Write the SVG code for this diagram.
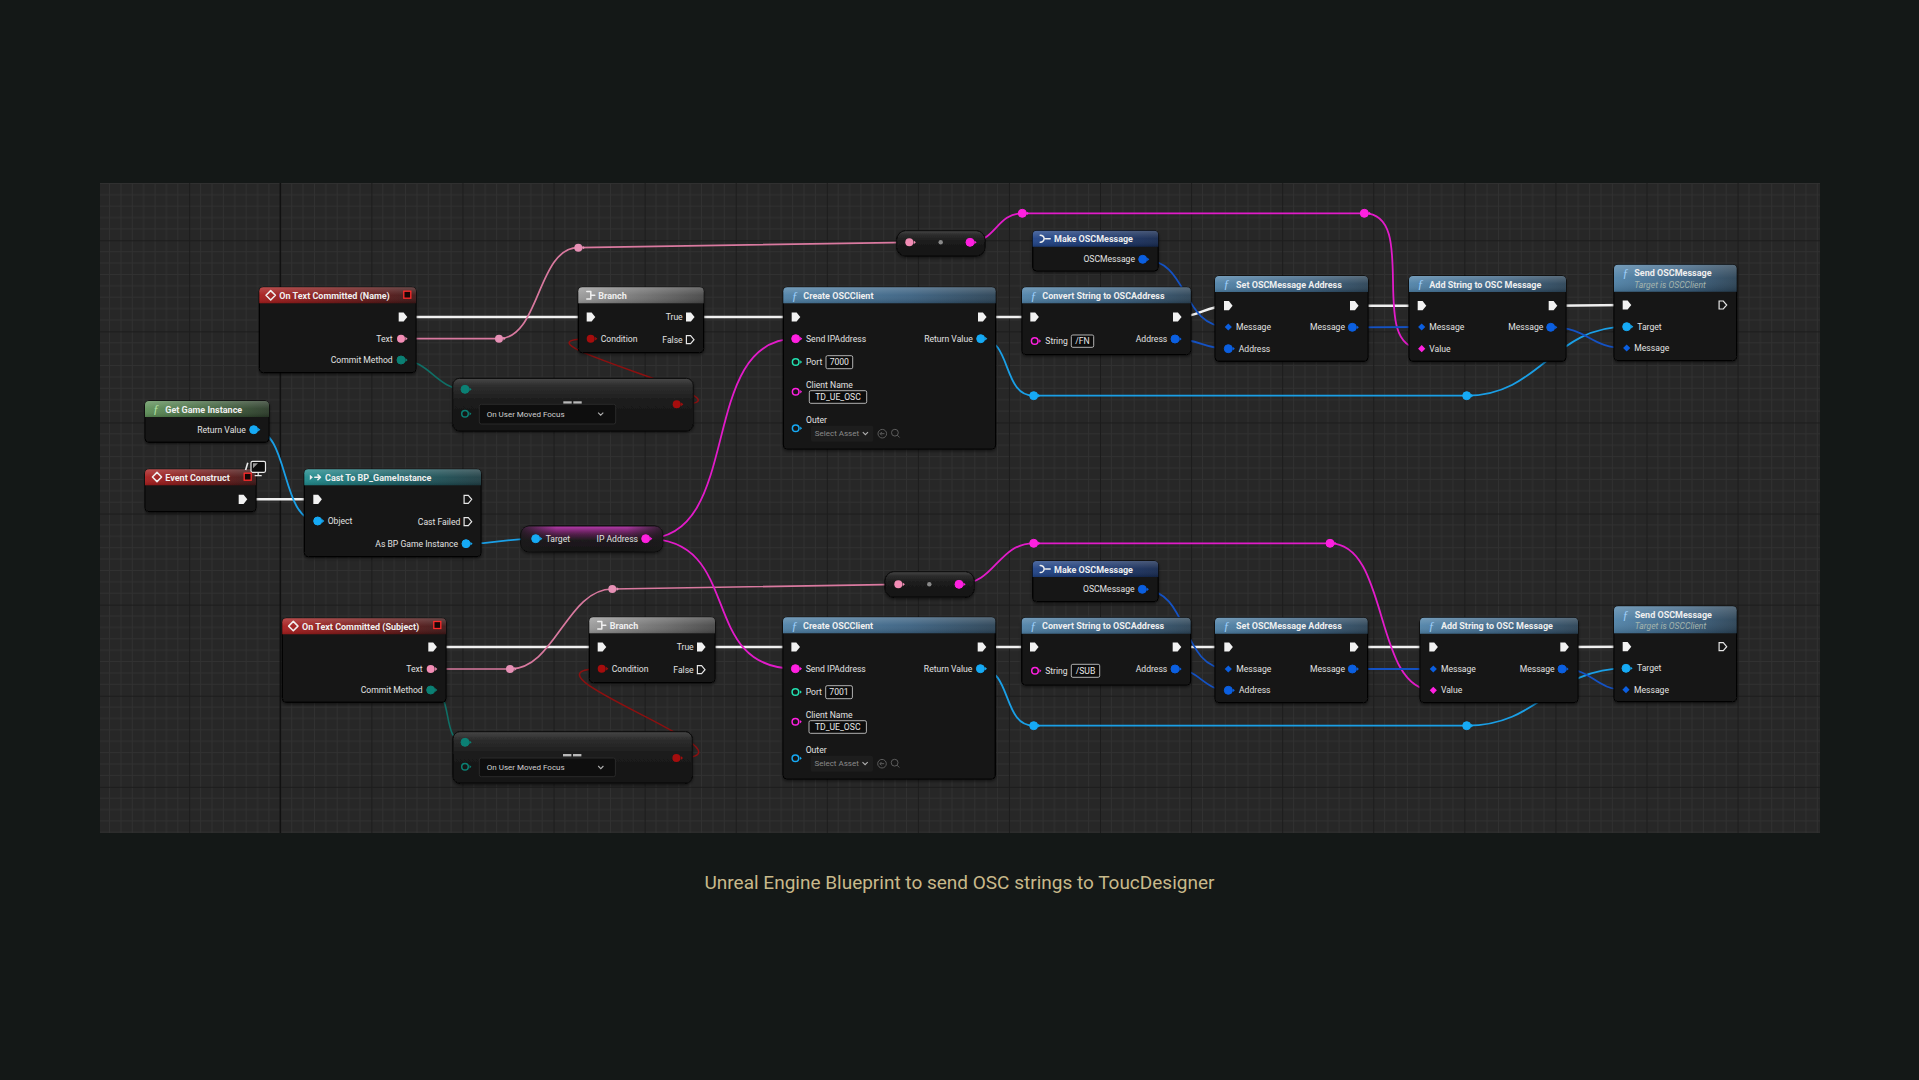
<svg xmlns="http://www.w3.org/2000/svg" xmlns:xlink="http://www.w3.org/1999/xlink" width="1919" height="1080" viewBox="0 0 1919 1080">
<defs>
<style>
.body{fill:#141414;stroke:#060606;stroke-width:1;filter:url(#sh)}
.gl{fill:url(#gGloss);stroke:#080808;stroke-width:1;filter:url(#sh)}
.t{font-family:Roboto,"Liberation Sans",sans-serif;font-size:9px;font-weight:700;fill:#efefef}
.l{font-family:Roboto,"Liberation Sans",sans-serif;font-size:8.6px;fill:#e2e2e2}
.r{text-anchor:end}
.m{text-anchor:middle}
.sub{font-family:Roboto,"Liberation Sans",sans-serif;font-size:8.6px;font-style:italic;fill:#a5b5ae}
.box{fill:#0c0c0c;stroke:#c4c4c4;stroke-width:0.9}
.bx{font-family:Roboto,"Liberation Sans",sans-serif;font-size:8.6px;fill:#e8e8e8}
.dd{fill:#0e0e0e;stroke:#2a2a2a;stroke-width:1}
.ddt{font-family:Roboto,"Liberation Sans",sans-serif;font-size:8px;fill:#d0d0d0}
.sa{font-family:Roboto,"Liberation Sans",sans-serif;font-size:8px;fill:#8a8a8a}
.fn{font-family:"Liberation Serif",serif;font-style:italic;font-size:12px;fill:#9fd0fb}
.ico{fill:none;stroke:#f0f0f0;stroke-width:1.5;stroke-linejoin:round;stroke-linecap:round}
.chev{fill:none;stroke:#b0b0b0;stroke-width:1.1}
.gi{fill:none;stroke:#5c5c5c;stroke-width:1}
.dlg{fill:#160606;stroke:#ff2b2b;stroke-width:1.3}
.exec{fill:#f2f2f2}
.ptx{fill:#f28db5}
.pen{fill:#0b8074;stroke:#0b8074}
.pbo{fill:#a50d0d}
.pob{fill:#16aaf5;stroke:#16aaf5}
.pst{fill:#ff20e0;stroke:#ff20e0}
.pin{fill:#23e0b0;stroke:#23e0b0}
.psr{fill:#0b5fe0;stroke:#0b5fe0}
.w{fill:none;stroke-linecap:round}
.we{stroke:#f0f0f0;stroke-width:2.4}
.wtx{stroke:#d9799f;stroke-width:1.7}
.wst{stroke:#e21bc9;stroke-width:1.8}
.wob{stroke:#1a9fe6;stroke-width:1.8}
.wsr{stroke:#1452c4;stroke-width:1.8}
.wen{stroke:#0f6f66;stroke-width:1.6}
.wbo{stroke:#8c1010;stroke-width:1.5}
</style>
<filter id="sh" x="-10%" y="-10%" width="120%" height="135%">
<feDropShadow dx="0" dy="1.5" stdDeviation="1.6" flood-color="#000" flood-opacity="0.55"/>
</filter>
<pattern id="grid" patternUnits="userSpaceOnUse" x="280.3" y="240.3" width="91.08" height="91.08">
<rect width="91.08" height="91.08" fill="#272727"/>
<path d="M11.385,0V91.08M22.77,0V91.08M34.155,0V91.08M45.54,0V91.08M56.925,0V91.08M68.31,0V91.08M79.695,0V91.08M0,11.385H91.08M0,22.77H91.08M0,34.155H91.08M0,45.54H91.08M0,56.925H91.08M0,68.31H91.08M0,79.695H91.08" stroke="#313131" stroke-width="1" fill="none"/>
<path d="M0.5,0V91.08M0,0.5H91.08" stroke="#1c1c1c" stroke-width="1" fill="none"/>
</pattern>
<linearGradient id="gEv" x1="0" y1="0" x2="1" y2="0"><stop offset="0" stop-color="#a81c1c"/><stop offset="0.6" stop-color="#6b1717"/><stop offset="1" stop-color="#3d1616"/></linearGradient>
<linearGradient id="gFn" x1="0" y1="0" x2="1" y2="0"><stop offset="0" stop-color="#4f82a8"/><stop offset="0.6" stop-color="#3a6080"/><stop offset="1" stop-color="#2a4255"/></linearGradient>
<linearGradient id="gPure" x1="0" y1="0" x2="1" y2="0"><stop offset="0" stop-color="#5f9159"/><stop offset="0.6" stop-color="#3d5d3a"/><stop offset="1" stop-color="#2a3a28"/></linearGradient>
<linearGradient id="gCast" x1="0" y1="0" x2="1" y2="0"><stop offset="0" stop-color="#1f8a8c"/><stop offset="0.6" stop-color="#1b5a60"/><stop offset="1" stop-color="#1d3c42"/></linearGradient>
<linearGradient id="gBr" x1="0" y1="0" x2="1" y2="0"><stop offset="0" stop-color="#9a9a9a"/><stop offset="0.6" stop-color="#6a6a6a"/><stop offset="1" stop-color="#474747"/></linearGradient>
<linearGradient id="gMk" x1="0" y1="0" x2="1" y2="0"><stop offset="0" stop-color="#1f4388"/><stop offset="0.6" stop-color="#19346a"/><stop offset="1" stop-color="#15284e"/></linearGradient>
<linearGradient id="gHl" x1="0" y1="0" x2="0" y2="1"><stop offset="0" stop-color="#fff" stop-opacity="0.22"/><stop offset="0.5" stop-color="#fff" stop-opacity="0.05"/><stop offset="1" stop-color="#000" stop-opacity="0.15"/></linearGradient>
<linearGradient id="gGloss" x1="0" y1="0" x2="0" y2="1"><stop offset="0" stop-color="#484848"/><stop offset="0.14" stop-color="#2e2e2e"/><stop offset="0.45" stop-color="#1b1b1b"/><stop offset="1" stop-color="#141414"/></linearGradient>
<linearGradient id="gIp" x1="0" y1="0" x2="0" y2="1"><stop offset="0" stop-color="#b83aae"/><stop offset="0.3" stop-color="#58204f"/><stop offset="0.55" stop-color="#1f1a1f"/><stop offset="1" stop-color="#151515"/></linearGradient>
<linearGradient id="gIpE" x1="0" y1="0" x2="1" y2="0"><stop offset="0" stop-color="#1a1a1a" stop-opacity="0.85"/><stop offset="0.25" stop-color="#1a1a1a" stop-opacity="0"/><stop offset="0.75" stop-color="#1a1a1a" stop-opacity="0"/><stop offset="1" stop-color="#1a1a1a" stop-opacity="0.85"/></linearGradient>
<path id="ex" d="M-4,-4.6H0.9L4.6,0L0.9,4.6H-4Z"/>
<path id="exo" d="M-3.6,-4H0.6L4,0L0.6,4H-3.6Z" fill="none" stroke="#e6e6e6" stroke-width="1.2"/>
<g id="pd"><circle r="4"/><path d="M4.4,-1.9L6.6,0L4.4,1.9Z" stroke="none"/></g>
<g id="po"><circle r="3.3" fill="none" stroke-width="1.5"/><path d="M4.5,-1.7L6.4,0L4.5,1.7Z" stroke="none"/></g>
<path id="pdm" d="M0,-3.6L3.6,0L0,3.6L-3.6,0Z" stroke="none"/>
</defs>

<rect width="1919" height="1080" fill="#141817"/>
<g id="canvas">
<rect x="100" y="183" width="1720" height="650" fill="url(#grid)"/>
<line x1="280.3" y1="183" x2="280.3" y2="833" stroke="#111" stroke-width="1.4"/>
</g>

<g id="connectors" class="w">
<path class="w we" d="M402.7,317H590.7"/>
<path class="w we" d="M690,317H795.7"/>
<path class="w we" d="M982,317H1034.3"/>
<path class="w we" d="M1177,317C1200,317 1205,305.7 1228,305.7"/>
<path class="w we" d="M1354,305.7H1421.7"/>
<path class="w we" d="M1552.7,305.7L1626.7,305"/>
<path class="w we" d="M242.7,499.3H317.3"/>
<path class="w we" d="M432.3,647H601.7"/>
<path class="w we" d="M701,647H795.4"/>
<path class="w we" d="M981.7,647H1034"/>
<path class="w we" d="M1176.7,647H1228.3"/>
<path class="w we" d="M1354,647H1433.3"/>
<path class="w we" d="M1564.3,647L1626.7,646.7"/>
<path class="w wtx" d="M401,338.7H499C540,338.7 537,247.7 578.3,247.7L909.3,242.3"/>
<path class="w wtx" d="M430.7,669H510C555,669 567,589 612.3,589L898.3,584.3"/>
<path class="w wst" d="M970,242.3C995,242.3 997,213.3 1022.3,213.3H1364.3C1420,213.3 1366,348.7 1421.7,348.7"/>
<path class="w wst" d="M959,584.3C995,584.3 998,543.3 1033.7,543.3H1330C1390,543.3 1373,690.3 1433.3,690.3"/>
<path class="w wst" d="M645.7,538.7C745,538.7 696,338.7 795.7,338.7"/>
<path class="w wst" d="M645.7,538.7C745,538.7 696,668.7 795.4,668.7"/>
<path class="w wob" d="M253.7,429.7C290,429.7 280,521 317.7,521"/>
<path class="w wob" d="M466,543.7C500,543.7 502,538.7 535.7,538.7"/>
<path class="w wob" d="M980.7,338.7C1012,338.7 1002,395.7 1033.7,395.7H1466.7C1540,395.7 1552,326.7 1626.7,326.7"/>
<path class="w wob" d="M980.4,668.7C1012,668.7 1002,725.7 1033.7,725.7H1466.7C1540,725.7 1552,668.3 1626,668.3"/>
<path class="w wsr" d="M1142.7,259.3C1190,259.3 1180,327 1228.3,327"/>
<path class="w wsr" d="M1175,339C1200,339 1203,348.7 1228.3,348.7"/>
<path class="w wsr" d="M1352.3,327.3L1421.7,327"/>
<path class="w wsr" d="M1550.7,327.3C1590,327.3 1588,348 1626.7,348"/>
<path class="w wsr" d="M1142.3,589.3C1190,589.3 1180,669 1228.3,669"/>
<path class="w wsr" d="M1175,669C1200,669 1203,690.3 1228.3,690.3"/>
<path class="w wsr" d="M1352.3,669H1433.3"/>
<path class="w wsr" d="M1562,669C1595,669 1593,689.7 1626,689.7"/>
<path class="w wen" d="M401,360C430,360 436,389.3 465,389.3"/>
<path class="w wen" d="M430.7,690C455,690 440,742.3 465,742.3"/>
<path class="w wbo" d="M676.7,404.3C776.7,404.3 490.7,338.7 590.7,338.7"/>
<path class="w wbo" d="M676.4,758C776.4,758 501.7,668.7 601.7,668.7"/>
</g>

<g id="reroutes">
<use href="#pd" x="499" y="338.7" style="fill:#e690b5"/>
<use href="#pd" x="578.3" y="247.7" style="fill:#e690b5"/>
<use href="#pd" x="510" y="669" style="fill:#e690b5"/>
<use href="#pd" x="612.3" y="589" style="fill:#e690b5"/>
<use href="#pd" x="1022.3" y="213.3" class="pst"/>
<use href="#pd" x="1364.3" y="213.3" class="pst"/>
<use href="#pd" x="1033.7" y="543.3" class="pst"/>
<use href="#pd" x="1330" y="543.3" class="pst"/>
<use href="#pd" x="1033.7" y="395.7" class="pob"/>
<use href="#pd" x="1466.7" y="395.7" class="pob"/>
<use href="#pd" x="1033.7" y="725.7" class="pob"/>
<use href="#pd" x="1466.7" y="725.7" class="pob"/>
</g>

<g id="n-otc-name" transform="translate(259.3,287.3)">
<rect class="body" width="156.7" height="85.4" rx="4"/>
<path fill="url(#gEv)" d="M0,16V4A4,4 0 0 1 4,0H152.7A4,4 0 0 1 156.7,4V16Z"/>
<path fill="url(#gHl)" d="M0,16V4A4,4 0 0 1 4,0H152.7A4,4 0 0 1 156.7,4V16Z"/>
<path class="ico" d="M11.4,3.3L16.1,8L11.4,12.7L6.7,8Z"/>
<text class="t" x="20" y="11.6">On Text Committed (Name)</text>
<rect class="dlg" x="144.5" y="3.9" width="7" height="7"/>
<use href="#ex" class="exec" x="143.4" y="29.7"/>
<use href="#pd" class="ptx" x="141.7" y="51.4"/>
<text class="l r" x="133.4" y="54.4">Text</text>
<use href="#pd" class="pen" x="141.7" y="72.7"/>
<text class="l r" x="133.4" y="75.7">Commit Method</text>
</g>

<g id="n-get-game-instance" transform="translate(145,401)">
<rect class="body" width="124" height="41.3" rx="4"/>
<path fill="url(#gPure)" d="M0,16V4A4,4 0 0 1 4,0H120A4,4 0 0 1 124,4V16Z"/>
<path fill="url(#gHl)" d="M0,16V4A4,4 0 0 1 4,0H120A4,4 0 0 1 124,4V16Z"/>
<text class="fn" x="8" y="12.3" style="fill:#b4e2a4">ƒ</text>
<text class="t" x="20.3" y="11.6">Get Game Instance</text>
<use href="#pd" class="pob" x="108.7" y="28.7"/>
<text class="l r" x="100.7" y="31.7">Return Value</text>
</g>

<g id="n-event-construct" transform="translate(145,469.3)">
<rect class="body" width="111" height="42.4" rx="4"/>
<path fill="url(#gEv)" d="M0,16V4A4,4 0 0 1 4,0H107A4,4 0 0 1 111,4V16Z"/>
<path fill="url(#gHl)" d="M0,16V4A4,4 0 0 1 4,0H107A4,4 0 0 1 111,4V16Z"/>
<path class="ico" d="M12,3.1L16.6,7.7L12,12.3L7.4,7.7Z"/>
<text class="t" x="20.3" y="11.6">Event Construct</text>
<rect x="106" y="-8" width="14.5" height="11" rx="1.5" fill="#0d0d0d" stroke="#eaeaea" stroke-width="1.2"/>
<path d="M108,-6H113L108,-1Z" fill="#9a9a9a"/>
<path d="M113.2,3.2V5.8M109.7,6.3H116.7" stroke="#eaeaea" stroke-width="1.2" fill="none"/>
<path d="M102.8,-6.5L100.6,0.8" stroke="#eaeaea" stroke-width="1.6" fill="none"/>
<rect class="dlg" x="99.2" y="3.9" width="7" height="7"/>
<use href="#ex" class="exec" x="97.7" y="30"/>
</g>

<g id="n-cast" transform="translate(304.3,469.3)">
<rect class="body" width="176.7" height="87.4" rx="4"/>
<path fill="url(#gCast)" d="M0,16V4A4,4 0 0 1 4,0H172.7A4,4 0 0 1 176.7,4V16Z"/>
<path fill="url(#gHl)" d="M0,16V4A4,4 0 0 1 4,0H172.7A4,4 0 0 1 176.7,4V16Z"/>
<path d="M5.5,5.4L8.6,8L5.5,10.6Z" fill="#f0f0f0"/>
<path class="ico" d="M10.5,8H16M13.6,5.6L16.2,8L13.6,10.4"/>
<text class="t" x="20.7" y="11.6">Cast To BP_GameInstance</text>
<use href="#ex" class="exec" x="13" y="30"/>
<use href="#exo" x="163.4" y="30"/>
<use href="#pd" class="pob" x="13.4" y="51.7"/>
<text class="l" x="23.4" y="54.7">Object</text>
<text class="l r" x="156" y="55.4">Cast Failed</text>
<use href="#exo" x="163.4" y="52.4"/>
<use href="#pd" class="pob" x="161.7" y="74.4"/>
<text class="l r" x="153.7" y="77.4">As BP Game Instance</text>
</g>

<g id="n-enum-equal-1" transform="translate(452.7,378.3)">
<rect class="gl" width="240.6" height="52.7" rx="7"/>
<rect x="110.6" y="23" width="8.4" height="2.4" fill="#b8b8b8"/>
<rect x="120.6" y="23" width="8.4" height="2.4" fill="#b8b8b8"/>
<use href="#pd" class="pen" x="12.3" y="11"/>
<use href="#po" class="pen" x="12.3" y="35.4"/>
<rect class="dd" x="26.6" y="26" width="136.4" height="19.7" rx="2"/>
<text class="ddt" x="34" y="38.7">On User Moved Focus</text>
<path class="chev" d="M145.4,34.3l2.6,2.6l2.6,-2.6"/>
<use href="#pd" class="pbo" x="224" y="26"/>
</g>

<g id="n-branch-1" transform="translate(578.3,287.3)">
<rect class="body" width="125.4" height="65.4" rx="4"/>
<path fill="url(#gBr)" d="M0,16V4A4,4 0 0 1 4,0H121.4A4,4 0 0 1 125.4,4V16Z"/>
<path fill="url(#gHl)" d="M0,16V4A4,4 0 0 1 4,0H121.4A4,4 0 0 1 125.4,4V16Z"/>
<path class="ico" d="M8.5,4.3H12.5V11.7H8.5M12.5,8H16.5"/>
<text class="t" x="20" y="11.7">Branch</text>
<use href="#ex" class="exec" x="12.4" y="29.7"/>
<text class="l r" x="104.4" y="32.7">True</text>
<use href="#ex" class="exec" x="111.7" y="29.7"/>
<use href="#pd" class="pbo" x="12.4" y="51.4"/>
<text class="l" x="22.4" y="54.4">Condition</text>
<text class="l r" x="104.4" y="55.4">False</text>
<use href="#exo" x="111.7" y="52.4"/>
</g>

<g id="n-to-string-1" transform="translate(896.7,230.7)">
<rect class="gl" width="88.3" height="25.3" rx="9"/>
<use href="#pd" class="ptx" x="12.6" y="11.6"/>
<circle cx="44" cy="11.6" r="2.2" fill="#8a8a8a"/>
<use href="#pd" class="pst" x="73.3" y="11.6"/>
</g>

<g id="n-create-osc-client-1" transform="translate(783.3,287.3)">
<rect class="body" width="212.4" height="161.7" rx="4"/>
<path fill="url(#gFn)" d="M0,16V4A4,4 0 0 1 4,0H208.4A4,4 0 0 1 212.4,4V16Z"/>
<path fill="url(#gHl)" d="M0,16V4A4,4 0 0 1 4,0H208.4A4,4 0 0 1 212.4,4V16Z"/>
<text class="fn" x="8.5" y="12.3">ƒ</text>
<text class="t" x="20" y="11.6">Create OSCClient</text>
<use href="#ex" class="exec" x="12.4" y="29.7"/>
<use href="#ex" class="exec" x="198.7" y="29.7"/>
<use href="#pd" class="pst" x="12.4" y="51.4"/>
<text class="l" x="22.7" y="54.4">Send IPAddress</text>
<use href="#pd" class="pob" x="197.4" y="51.4"/>
<text class="l r" x="189.4" y="54.4">Return Value</text>
<use href="#po" class="pin" x="12.4" y="74.7"/>
<text class="l" x="22.7" y="77.7">Port</text>
<rect class="box" x="42.7" y="68.4" width="26.7" height="13" rx="1.5"/>
<text class="bx m" x="56" y="78">7000</text>
<text class="l" x="22.7" y="101.2">Client Name</text>
<use href="#po" class="pst" x="12.4" y="104.4"/>
<rect class="box" x="26" y="103.4" width="57.4" height="12.6" rx="1.5"/>
<text class="bx m" x="54.7" y="112.7">TD_UE_OSC</text>
<text class="l" x="22.7" y="136">Outer</text>
<use href="#po" class="pob" x="12.4" y="141"/>
<rect x="27.7" y="138.4" width="62.3" height="16" rx="2" fill="#1d1d1d"/>
<text class="sa" x="31.5" y="149">Select Asset</text>
<path class="chev" d="M79.5,144.8l2.6,2.6l2.6,-2.6"/>
<circle class="gi" cx="99" cy="146.4" r="4.3"/>
<path class="gi" d="M101.2,146.4H96.8M98.6,144.6L96.8,146.4L98.6,148.2"/>
<circle class="gi" cx="111.6" cy="145.4" r="3.4"/>
<path class="gi" d="M114,147.9L116.3,150.2"/>
</g>

<g id="n-ip-address" transform="translate(521,526)">
<rect width="141.7" height="25.7" rx="8" fill="url(#gIp)" stroke="#080808" stroke-width="1" filter="url(#sh)"/>
<rect width="141.7" height="25.7" rx="8" fill="url(#gIpE)"/>
<use href="#pd" class="pob" x="14.7" y="12.7"/>
<text class="l" x="24.7" y="15.7">Target</text>
<text class="l r" x="117" y="15.7">IP Address</text>
<use href="#pd" class="pst" x="124.7" y="12.7"/>
</g>

<g id="n-make-osc-message-1" transform="translate(1032.7,230.7)">
<rect class="body" width="125.5" height="40.3" rx="4"/>
<path fill="url(#gMk)" d="M0,16V4A4,4 0 0 1 4,0H121.5A4,4 0 0 1 125.5,4V16Z"/>
<path fill="url(#gHl)" d="M0,16V4A4,4 0 0 1 4,0H121.5A4,4 0 0 1 125.5,4V16Z"/>
<path class="ico" d="M7.5,4.5Q11,4.5 11.5,8Q11,11.5 7.5,11.5M12.8,8H17.5"/>
<text class="t" x="21.3" y="11.7">Make OSCMessage</text>
<use href="#pd" class="psr" x="110" y="28.6"/>
<text class="l r" x="102.3" y="31.6">OSCMessage</text>
</g>

<g id="n-convert-1" transform="translate(1022,287.3)">
<rect class="body" width="168.8" height="67.4" rx="4"/>
<path fill="url(#gFn)" d="M0,16V4A4,4 0 0 1 4,0H164.8A4,4 0 0 1 168.8,4V16Z"/>
<path fill="url(#gHl)" d="M0,16V4A4,4 0 0 1 4,0H164.8A4,4 0 0 1 168.8,4V16Z"/>
<text class="fn" x="8.5" y="12.3">ƒ</text>
<text class="t" x="20.3" y="11.6">Convert String to OSCAddress</text>
<use href="#ex" class="exec" x="12.3" y="29.7"/>
<use href="#ex" class="exec" x="155" y="29.7"/>
<use href="#po" class="pst" x="12.7" y="53.7"/>
<text class="l" x="23.3" y="56.7">String</text>
<rect class="box" x="49.3" y="47.7" width="22.4" height="12.3" rx="1.5"/>
<text class="bx m" x="60.5" y="56.9">/FN</text>
<use href="#pd" class="psr" x="153" y="51.7"/>
<text class="l r" x="145.3" y="54.7">Address</text>
</g>

<g id="n-set-address-1" transform="translate(1215,276)">
<rect class="body" width="153" height="85.3" rx="4"/>
<path fill="url(#gFn)" d="M0,16V4A4,4 0 0 1 4,0H149A4,4 0 0 1 153,4V16Z"/>
<path fill="url(#gHl)" d="M0,16V4A4,4 0 0 1 4,0H149A4,4 0 0 1 153,4V16Z"/>
<text class="fn" x="8.5" y="12.3">ƒ</text>
<text class="t" x="21" y="11.6">Set OSCMessage Address</text>
<use href="#ex" class="exec" x="13" y="29.7"/>
<use href="#ex" class="exec" x="139" y="29.7"/>
<use href="#pdm" class="psr" x="13.3" y="51"/>
<text class="l" x="21" y="54">Message</text>
<use href="#pd" class="psr" x="13.3" y="72.7"/>
<text class="l" x="23.7" y="75.7">Address</text>
<use href="#pd" class="psr" x="137.3" y="51.3"/>
<text class="l r" x="130" y="54.3">Message</text>
</g>

<g id="n-add-string-1" transform="translate(1409,276)">
<rect class="body" width="157" height="85.3" rx="4"/>
<path fill="url(#gFn)" d="M0,16V4A4,4 0 0 1 4,0H153A4,4 0 0 1 157,4V16Z"/>
<path fill="url(#gHl)" d="M0,16V4A4,4 0 0 1 4,0H153A4,4 0 0 1 157,4V16Z"/>
<text class="fn" x="8.5" y="12.3">ƒ</text>
<text class="t" x="20.3" y="11.6">Add String to OSC Message</text>
<use href="#ex" class="exec" x="12.7" y="29.7"/>
<use href="#ex" class="exec" x="143.7" y="29.7"/>
<use href="#pdm" class="psr" x="12.7" y="51"/>
<text class="l" x="20.3" y="54">Message</text>
<use href="#pdm" class="pst" x="12.7" y="72.7"/>
<text class="l" x="20.3" y="75.7">Value</text>
<use href="#pd" class="psr" x="141.7" y="51.3"/>
<text class="l r" x="134.3" y="54.3">Message</text>
</g>

<g id="n-send-1" transform="translate(1614,264.7)">
<rect class="body" width="122.7" height="96" rx="4"/>
<path fill="url(#gFn)" d="M0,27V4A4,4 0 0 1 4,0H118.7A4,4 0 0 1 122.7,4V27Z"/>
<path fill="url(#gHl)" d="M0,27V4A4,4 0 0 1 4,0H118.7A4,4 0 0 1 122.7,4V27Z"/>
<text class="fn" x="8.5" y="12.3">ƒ</text>
<text class="t" x="20.3" y="11.5">Send OSCMessage</text>
<text class="sub" x="20.3" y="23">Target is OSCClient</text>
<use href="#ex" class="exec" x="12.7" y="40.3"/>
<use href="#exo" x="108.7" y="40.3"/>
<use href="#pd" class="pob" x="12.7" y="62"/>
<text class="l" x="23.3" y="65">Target</text>
<use href="#pdm" class="psr" x="12.7" y="83.3"/>
<text class="l" x="20.3" y="86.3">Message</text>
</g>

<g id="n-otc-subject" transform="translate(282.3,618.3)">
<rect class="body" width="163.7" height="84" rx="4"/>
<path fill="url(#gEv)" d="M0,16V4A4,4 0 0 1 4,0H159.7A4,4 0 0 1 163.7,4V16Z"/>
<path fill="url(#gHl)" d="M0,16V4A4,4 0 0 1 4,0H159.7A4,4 0 0 1 163.7,4V16Z"/>
<path class="ico" d="M11,3.1L15.7,7.8L11,12.5L6.3,7.8Z"/>
<text class="t" x="19.7" y="11.6">On Text Committed (Subject)</text>
<rect class="dlg" x="151.5" y="3.2" width="7" height="7"/>
<use href="#ex" class="exec" x="150" y="28.7"/>
<use href="#pd" class="ptx" x="148.4" y="50.7"/>
<text class="l r" x="140.4" y="53.7">Text</text>
<use href="#pd" class="pen" x="148.4" y="71.7"/>
<text class="l r" x="140.4" y="74.7">Commit Method</text>
</g>

<g id="n-enum-equal-2" transform="translate(453,731.7)">
<rect class="gl" width="239.3" height="51.6" rx="7"/>
<rect x="110" y="22.3" width="8.4" height="2.4" fill="#b8b8b8"/>
<rect x="120" y="22.3" width="8.4" height="2.4" fill="#b8b8b8"/>
<use href="#pd" class="pen" x="12" y="10.6"/>
<use href="#po" class="pen" x="12" y="35"/>
<rect class="dd" x="26.3" y="26.3" width="136.1" height="18.7" rx="2"/>
<text class="ddt" x="33.8" y="38.6">On User Moved Focus</text>
<path class="chev" d="M145.2,34.3l2.6,2.6l2.6,-2.6"/>
<use href="#pd" class="pbo" x="223.4" y="26.3"/>
</g>

<g id="n-branch-2" transform="translate(589.3,617.3)">
<rect class="body" width="125.7" height="65.4" rx="4"/>
<path fill="url(#gBr)" d="M0,16V4A4,4 0 0 1 4,0H121.7A4,4 0 0 1 125.7,4V16Z"/>
<path fill="url(#gHl)" d="M0,16V4A4,4 0 0 1 4,0H121.7A4,4 0 0 1 125.7,4V16Z"/>
<path class="ico" d="M8.5,4.3H12.5V11.7H8.5M12.5,8H16.5"/>
<text class="t" x="20.5" y="11.7">Branch</text>
<use href="#ex" class="exec" x="12.4" y="29.7"/>
<text class="l r" x="104.4" y="32.7">True</text>
<use href="#ex" class="exec" x="111.7" y="29.7"/>
<use href="#pd" class="pbo" x="12.4" y="51.4"/>
<text class="l" x="22.4" y="54.4">Condition</text>
<text class="l r" x="104.4" y="55.4">False</text>
<use href="#exo" x="111.7" y="52.4"/>
</g>

<g id="n-to-string-2" transform="translate(885,571.7)">
<rect class="gl" width="89.3" height="25.6" rx="9"/>
<use href="#pd" class="ptx" x="13.3" y="12.6"/>
<circle cx="44.3" cy="12.6" r="2.2" fill="#8a8a8a"/>
<use href="#pd" class="pst" x="74" y="12.6"/>
</g>

<g id="n-create-osc-client-2" transform="translate(783,617.3)">
<rect class="body" width="212.4" height="161.7" rx="4"/>
<path fill="url(#gFn)" d="M0,16V4A4,4 0 0 1 4,0H208.4A4,4 0 0 1 212.4,4V16Z"/>
<path fill="url(#gHl)" d="M0,16V4A4,4 0 0 1 4,0H208.4A4,4 0 0 1 212.4,4V16Z"/>
<text class="fn" x="8.5" y="12.3">ƒ</text>
<text class="t" x="20" y="11.6">Create OSCClient</text>
<use href="#ex" class="exec" x="12.4" y="29.7"/>
<use href="#ex" class="exec" x="198.7" y="29.7"/>
<use href="#pd" class="pst" x="12.4" y="51.4"/>
<text class="l" x="22.7" y="54.4">Send IPAddress</text>
<use href="#pd" class="pob" x="197.4" y="51.4"/>
<text class="l r" x="189.4" y="54.4">Return Value</text>
<use href="#po" class="pin" x="12.4" y="74.7"/>
<text class="l" x="22.7" y="77.7">Port</text>
<rect class="box" x="42.7" y="68.4" width="26.7" height="13" rx="1.5"/>
<text class="bx m" x="56" y="78">7001</text>
<text class="l" x="22.7" y="101.2">Client Name</text>
<use href="#po" class="pst" x="12.4" y="104.4"/>
<rect class="box" x="26" y="103.4" width="57.4" height="12.6" rx="1.5"/>
<text class="bx m" x="54.7" y="112.7">TD_UE_OSC</text>
<text class="l" x="22.7" y="136">Outer</text>
<use href="#po" class="pob" x="12.4" y="141"/>
<rect x="27.7" y="138.4" width="62.3" height="16" rx="2" fill="#1d1d1d"/>
<text class="sa" x="31.5" y="149">Select Asset</text>
<path class="chev" d="M79.5,144.8l2.6,2.6l2.6,-2.6"/>
<circle class="gi" cx="99" cy="146.4" r="4.3"/>
<path class="gi" d="M101.2,146.4H96.8M98.6,144.6L96.8,146.4L98.6,148.2"/>
<circle class="gi" cx="111.6" cy="145.4" r="3.4"/>
<path class="gi" d="M114,147.9L116.3,150.2"/>
</g>

<g id="n-make-osc-message-2" transform="translate(1032.7,561)">
<rect class="body" width="125.5" height="40.7" rx="4"/>
<path fill="url(#gMk)" d="M0,16V4A4,4 0 0 1 4,0H121.5A4,4 0 0 1 125.5,4V16Z"/>
<path fill="url(#gHl)" d="M0,16V4A4,4 0 0 1 4,0H121.5A4,4 0 0 1 125.5,4V16Z"/>
<path class="ico" d="M7.5,4.5Q11,4.5 11.5,8Q11,11.5 7.5,11.5M12.8,8H17.5"/>
<text class="t" x="21.3" y="11.7">Make OSCMessage</text>
<use href="#pd" class="psr" x="109.6" y="28.3"/>
<text class="l r" x="101.9" y="31.3">OSCMessage</text>
</g>

<g id="n-convert-2" transform="translate(1021.7,617.7)">
<rect class="body" width="169" height="67.3" rx="4"/>
<path fill="url(#gFn)" d="M0,16V4A4,4 0 0 1 4,0H165A4,4 0 0 1 169,4V16Z"/>
<path fill="url(#gHl)" d="M0,16V4A4,4 0 0 1 4,0H165A4,4 0 0 1 169,4V16Z"/>
<text class="fn" x="8.5" y="12.3">ƒ</text>
<text class="t" x="20.3" y="11.6">Convert String to OSCAddress</text>
<use href="#ex" class="exec" x="12.3" y="29.3"/>
<use href="#ex" class="exec" x="155" y="29.3"/>
<use href="#po" class="pst" x="13.3" y="53"/>
<text class="l" x="23.5" y="56">String</text>
<rect class="box" x="49.6" y="46.6" width="28.4" height="13" rx="1.5"/>
<text class="bx m" x="63.8" y="56.2">/SUB</text>
<use href="#pd" class="psr" x="153.3" y="51.3"/>
<text class="l r" x="145.6" y="54.3">Address</text>
</g>

<g id="n-set-address-2" transform="translate(1215,617.7)">
<rect class="body" width="152.7" height="85" rx="4"/>
<path fill="url(#gFn)" d="M0,16V4A4,4 0 0 1 4,0H148.7A4,4 0 0 1 152.7,4V16Z"/>
<path fill="url(#gHl)" d="M0,16V4A4,4 0 0 1 4,0H148.7A4,4 0 0 1 152.7,4V16Z"/>
<text class="fn" x="8.5" y="12.3">ƒ</text>
<text class="t" x="21" y="11.6">Set OSCMessage Address</text>
<use href="#ex" class="exec" x="13.3" y="29.3"/>
<use href="#ex" class="exec" x="139" y="29.3"/>
<use href="#pdm" class="psr" x="13.3" y="51.3"/>
<text class="l" x="21.3" y="54.3">Message</text>
<use href="#pd" class="psr" x="13.3" y="72.6"/>
<text class="l" x="24" y="75.6">Address</text>
<use href="#pd" class="psr" x="137.3" y="51.3"/>
<text class="l r" x="130" y="54.3">Message</text>
</g>

<g id="n-add-string-2" transform="translate(1420,617.7)">
<rect class="body" width="158" height="85" rx="4"/>
<path fill="url(#gFn)" d="M0,16V4A4,4 0 0 1 4,0H154A4,4 0 0 1 158,4V16Z"/>
<path fill="url(#gHl)" d="M0,16V4A4,4 0 0 1 4,0H154A4,4 0 0 1 158,4V16Z"/>
<text class="fn" x="8.5" y="12.3">ƒ</text>
<text class="t" x="20.9" y="11.6">Add String to OSC Message</text>
<use href="#ex" class="exec" x="13.3" y="29.3"/>
<use href="#ex" class="exec" x="144.3" y="29.3"/>
<use href="#pdm" class="psr" x="13.3" y="51.3"/>
<text class="l" x="20.9" y="54.3">Message</text>
<use href="#pdm" class="pst" x="13.3" y="72.6"/>
<text class="l" x="20.9" y="75.6">Value</text>
<use href="#pd" class="psr" x="142" y="51.3"/>
<text class="l r" x="134.7" y="54.3">Message</text>
</g>

<g id="n-send-2" transform="translate(1614,606.3)">
<rect class="body" width="122.7" height="95.4" rx="4"/>
<path fill="url(#gFn)" d="M0,27V4A4,4 0 0 1 4,0H118.7A4,4 0 0 1 122.7,4V27Z"/>
<path fill="url(#gHl)" d="M0,27V4A4,4 0 0 1 4,0H118.7A4,4 0 0 1 122.7,4V27Z"/>
<text class="fn" x="8.5" y="12.3">ƒ</text>
<text class="t" x="20.7" y="11.5">Send OSCMessage</text>
<text class="sub" x="20.7" y="23">Target is OSCClient</text>
<use href="#ex" class="exec" x="12.7" y="40.4"/>
<use href="#exo" x="108.7" y="40.4"/>
<use href="#pd" class="pob" x="12" y="62"/>
<text class="l" x="23" y="65">Target</text>
<use href="#pdm" class="psr" x="12" y="83.4"/>
<text class="l" x="20" y="86.4">Message</text>
</g>

<text id="caption" x="959.5" y="889" text-anchor="middle" font-family="Roboto, 'Liberation Sans', sans-serif" font-size="19" fill="#c8b98b">Unreal Engine Blueprint to send OSC strings to ToucDesigner</text>
</svg>
